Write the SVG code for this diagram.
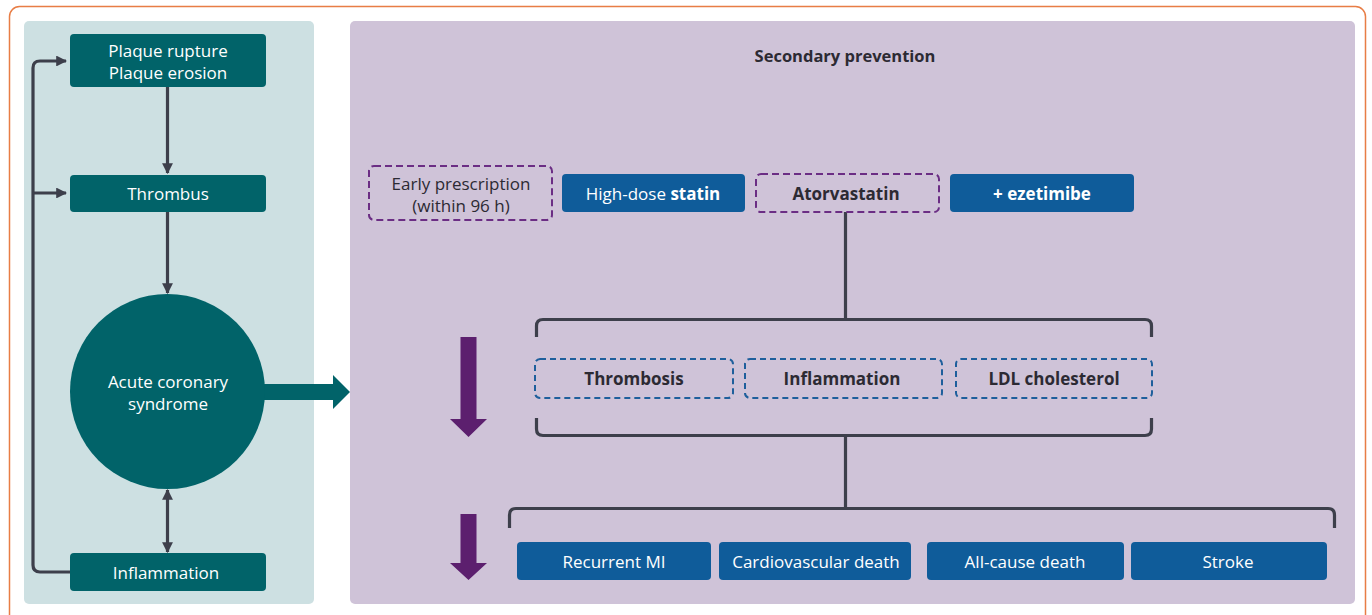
<svg xmlns="http://www.w3.org/2000/svg" width="1372" height="615" viewBox="0 0 1372 615">
<style>
text{font-family:"Open Sans","Liberation Sans",sans-serif;font-size:17px;text-anchor:middle;dominant-baseline:central}
.w{fill:#ffffff}
.d{fill:#2c2a33}
.b{font-weight:bold}
.teal{fill:#016369}
.blue{fill:#0f5c9a}
.dp{fill:none;stroke:#6b2d84;stroke-width:2;stroke-dasharray:7 4}
.db{fill:none;stroke:#1e5f9c;stroke-width:2;stroke-dasharray:6 4}
.ln{fill:none;stroke:#3d3f4b;stroke-width:3.2}
</style>
<defs>
<marker id="ah" viewBox="0 0 10 10" refX="9" refY="5" markerWidth="3.4" markerHeight="3.4" orient="auto-start-reverse">
<path d="M0,0 L10,5 L0,10 z" fill="#3d3f4b"/>
</marker>
</defs>
<rect x="0" y="0" width="1372" height="615" fill="#ffffff"/>
<rect x="9.5" y="6.5" width="1356" height="630" rx="10" fill="none" stroke="#e87d45" stroke-width="1.5"/>
<rect x="24" y="21" width="290" height="583" rx="5" fill="#cde0e2"/>
<rect x="350" y="21" width="1005" height="583" rx="5" fill="#cfc3d8"/>
<text class="d b" x="845" y="55" style="font-size:16.5px">Secondary prevention</text>

<g id="connectors">
<path class="ln" d="M70,572 H40 Q33,572 33,565 V68 Q33,61 40,61 H66" marker-end="url(#ah)"/>
<path class="ln" d="M33,193 H66" marker-end="url(#ah)"/>
<path class="ln" d="M167.5,87 V173" marker-end="url(#ah)"/>
<path class="ln" d="M167.5,212 V293" marker-end="url(#ah)"/>
<path class="ln" d="M167.5,490 V552" marker-start="url(#ah)" marker-end="url(#ah)"/>
<path d="M262,384 H333 V375 L350,392 L333,409 V400 H262 z" fill="#016369"/>
<path class="ln" d="M845.5,212 V319"/>
<path class="ln" d="M536.5,337 V326 Q536.5,319.5 543,319.5 H1145 Q1151.5,319.5 1151.5,326 V337"/>
<path class="ln" d="M536.5,418 V429 Q536.5,435.5 543,435.5 H1145 Q1151.5,435.5 1151.5,429 V418"/>
<path class="ln" d="M845.5,436 V508"/>
<path class="ln" d="M509.5,528 V515 Q509.5,508.5 516,508.5 H1328 Q1334.5,508.5 1334.5,515 V528"/>
<path d="M460.5,337 H476.5 V419 H487 L468.5,437 L450,419 H460.5 z" fill="#5c1f6e"/>
<path d="M460.5,514 H476.5 V563 H487 L468.5,580 L450,563 H460.5 z" fill="#5c1f6e"/>
</g>

<g id="plaque"><rect class="teal" x="70" y="34" width="196" height="53" rx="4"/><text class="w" x="168" y="50">Plaque rupture</text><text class="w" x="168" y="72">Plaque erosion</text></g>
<g id="thrombus"><rect class="teal" x="70" y="175" width="196" height="37" rx="4"/><text class="w" x="168" y="193">Thrombus</text></g>
<g id="acs"><circle class="teal" cx="167.5" cy="391.5" r="97.5"/><text class="w" x="168" y="381">Acute coronary</text><text class="w" x="168" y="403">syndrome</text></g>
<g id="inflammation"><rect class="teal" x="70" y="553" width="196" height="38" rx="4"/><text class="w" x="166" y="572">Inflammation</text></g>

<g id="early"><rect class="dp" x="369" y="166" width="183" height="54" rx="5"/><text class="d" x="461" y="183">Early prescription</text><text class="d" x="461" y="205">(within 96 h)</text></g>
<g id="statin"><rect class="blue" x="562" y="174" width="183" height="38" rx="4"/><text class="w" x="653" y="193">High-dose <tspan class="b">statin</tspan></text></g>
<g id="atorvastatin"><rect class="dp" x="756" y="174" width="183" height="38" rx="5"/><text class="d b" x="846" y="193">Atorvastatin</text></g>
<g id="ezetimibe"><rect class="blue" x="950" y="174" width="184" height="38" rx="4"/><text class="w b" x="1042" y="193">+ ezetimibe</text></g>

<g id="thrombosis"><rect class="db" x="535" y="359" width="198" height="39" rx="5"/><text class="d b" x="634" y="378">Thrombosis</text></g>
<g id="inflammation2"><rect class="db" x="745" y="359" width="197" height="39" rx="5"/><text class="d b" x="842" y="378">Inflammation</text></g>
<g id="ldl"><rect class="db" x="956" y="359" width="196" height="39" rx="5"/><text class="d b" x="1054" y="378">LDL cholesterol</text></g>

<g id="mi"><rect class="blue" x="517" y="542" width="194" height="38" rx="4"/><text class="w" x="614" y="561">Recurrent MI</text></g>
<g id="cvdeath"><rect class="blue" x="719" y="542" width="192" height="38" rx="4"/><text class="w" x="816" y="561">Cardiovascular death</text></g>
<g id="allcause"><rect class="blue" x="927" y="542" width="197" height="38" rx="4"/><text class="w" x="1025" y="561">All-cause death</text></g>
<g id="stroke"><rect class="blue" x="1131" y="542" width="196" height="38" rx="4"/><text class="w" x="1228" y="561">Stroke</text></g>
</svg>
